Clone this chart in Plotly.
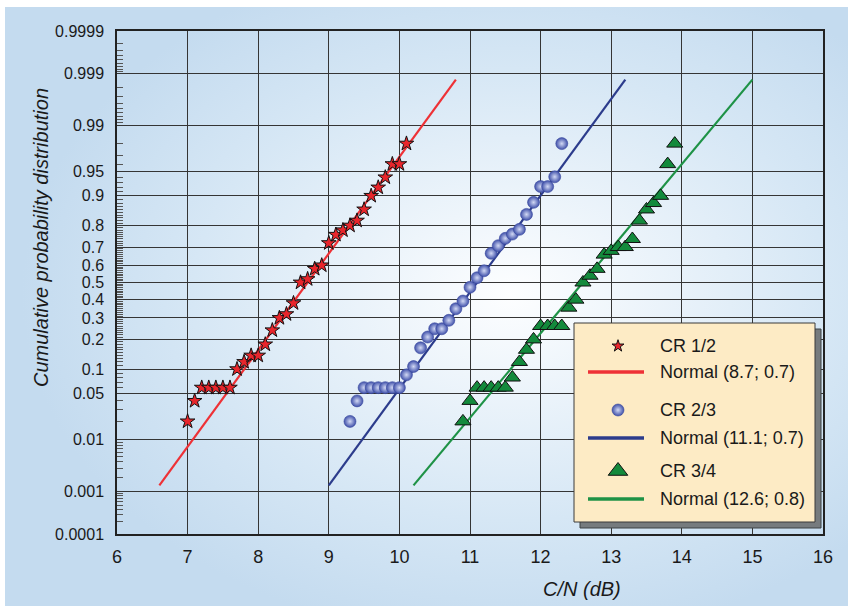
import base64
from statistics import NormalDist

import plotly.graph_objects as go

# ---- data -------------------------------------------------------------
prob_ticks = [0.0001, 0.001, 0.01, 0.05, 0.1, 0.2, 0.3, 0.4, 0.5, 0.6,
              0.7, 0.8, 0.9, 0.95, 0.99, 0.999, 0.9999]
prob_labels = ["0.0001", "0.001", "0.01", "0.05", "0.1", "0.2", "0.3", "0.4",
               "0.5", "0.6", "0.7", "0.8", "0.9", "0.95", "0.99", "0.999",
               "0.9999"]
cn_ticks = [6, 7, 8, 9, 10, 11, 12, 13, 14, 15, 16]

cr12_cn = [7.0, 7.1, 7.2, 7.3, 7.4, 7.5, 7.6, 7.7, 7.8, 7.9, 8.0, 8.1, 8.2,
           8.3, 8.4, 8.5, 8.6, 8.7, 8.8, 8.9, 9.0, 9.1, 9.2, 9.3, 9.4, 9.5,
           9.6, 9.7, 9.8, 9.9, 10.0, 10.1]
cr12_p = [0.02, 0.04, 0.06, 0.06, 0.06, 0.06, 0.06, 0.10, 0.12, 0.14, 0.14,
          0.18, 0.24, 0.30, 0.32, 0.38, 0.50, 0.52, 0.58, 0.60, 0.72, 0.76,
          0.78, 0.80, 0.82, 0.86, 0.90, 0.92, 0.94, 0.96, 0.96, 0.98]

cr23_cn = [9.3, 9.4, 9.5, 9.6, 9.7, 9.8, 9.9, 10.0, 10.1, 10.2, 10.3, 10.4,
           10.5, 10.6, 10.7, 10.8, 10.9, 11.0, 11.1, 11.2, 11.3, 11.4, 11.5,
           11.6, 11.7, 11.8, 11.9, 12.0, 12.1, 12.2, 12.3]
cr23_p = [0.02, 0.04, 0.06, 0.06, 0.06, 0.06, 0.06, 0.06, 0.086, 0.107,
          0.167, 0.21, 0.247, 0.247, 0.288, 0.349, 0.392, 0.472, 0.528, 0.569,
          0.667, 0.707, 0.743, 0.763, 0.784, 0.843, 0.882, 0.922, 0.922,
          0.941, 0.98]

cr34_cn = [10.9, 11.0, 11.1, 11.2, 11.3, 11.4, 11.5, 11.6, 11.7, 11.8, 11.9,
           12.0, 12.1, 12.2, 12.3, 12.4, 12.5, 12.6, 12.7, 12.8, 12.9, 13.0,
           13.1, 13.2, 13.3, 13.4, 13.5, 13.6, 13.7, 13.8, 13.9]
cr34_p = [0.02, 0.04, 0.06, 0.06, 0.06, 0.06, 0.06, 0.08, 0.12, 0.16, 0.20,
          0.26, 0.26, 0.26, 0.26, 0.355, 0.40, 0.50, 0.54, 0.58, 0.66, 0.68,
          0.70, 0.70, 0.74, 0.82, 0.86, 0.88, 0.90, 0.96, 0.98]

series_names = ["CR 1/2", "CR 2/3", "CR 3/4"]
fit_mean = [8.7, 11.1, 12.6]
fit_std = [0.7, 0.7, 0.8]

# ---- helpers ----------------------------------------------------------
STD = NormalDist()


def probit(p):
    return STD.inv_cdf(p)


FONT = "Liberation Sans, Arial, Helvetica, sans-serif"
W, H = 848, 606
L, R, T, B = 117, 25, 31, 72          # plot area margins (px)
PW, PH = W - L - R, H - T - B


def px_x(px):
    return (px - L) / PW


def px_y(py):
    return (H - B - py) / PH


RED, BLUE, GREEN = "#ee3136", "#2c3c8c", "#1e9246"

fig = go.Figure()

# ---- fitted normal lines (mean +/- 3 sigma), drawn on probit scale ----
line_colors = [RED, BLUE, GREEN]
for mu, sd, col in zip(fit_mean, fit_std, line_colors):
    dist = NormalDist(mu, sd)
    xs = [mu - 3 * sd + i * (6 * sd) / 40 for i in range(41)]
    ys = [probit(dist.cdf(x)) for x in xs]
    fig.add_trace(go.Scatter(x=xs, y=ys, mode="lines",
                             line=dict(color=col, width=2.2),
                             hoverinfo="skip", showlegend=False))

# ---- empirical points -------------------------------------------------
STAR = dict(symbol="star", size=11, color="#e8262c",
            line=dict(color="#111111", width=1))
BALL = dict(symbol="circle", size=12, color="#3f50aa",
            gradient=dict(type="radial", color="#d2d9f4"),
            line=dict(color="#3a4a9e", width=0.6))
TRI = dict(symbol="triangle-up", size=14, color="#138a3c",
           line=dict(color="#111111", width=1))

fig.add_trace(go.Scatter(
    x=cr12_cn, y=[probit(p) for p in cr12_p], mode="markers",
    name=series_names[0], showlegend=False, marker=STAR))
fig.add_trace(go.Scatter(
    x=cr23_cn, y=[probit(p) for p in cr23_p], mode="markers",
    name=series_names[1], showlegend=False, marker=BALL))
fig.add_trace(go.Scatter(
    x=cr34_cn, y=[probit(p) for p in cr34_p], mode="markers",
    name=series_names[2], showlegend=False, marker=TRI))

# ---- legend panel (drawn on an overlay axis in plot-fraction units) ----
box = (574, 323, 815, 522)
shadow_off = 6


def rect(x0, y0, x1, y1):
    xs = [px_x(x0), px_x(x1), px_x(x1), px_x(x0), px_x(x0)]
    ys = [px_y(y0), px_y(y0), px_y(y1), px_y(y1), px_y(y0)]
    return xs, ys


sx, sy = rect(box[0] + shadow_off, box[1] + shadow_off,
              box[2] + shadow_off, box[3] + shadow_off)
fig.add_trace(go.Scatter(x=sx, y=sy, xaxis="x2", yaxis="y2", mode="lines",
                         fill="toself", fillcolor="#767b7e",
                         line=dict(color="#3d4245", width=1),
                         hoverinfo="skip", showlegend=False))
bx, by = rect(*box)
fig.add_trace(go.Scatter(x=bx, y=by, xaxis="x2", yaxis="y2", mode="lines",
                         fill="toself", fillcolor="#fdebc5",
                         line=dict(color="#3a3a3a", width=1),
                         hoverinfo="skip", showlegend=False))

row_marker_y = [346, 410, 471]
row_line_y = [372, 438, 499]
legend_markers = [
    dict(STAR, size=9),
    dict(BALL, size=12),
    dict(TRI, size=17),
]
for i in range(3):
    fig.add_trace(go.Scatter(
        x=[px_x(588), px_x(644)], y=[px_y(row_line_y[i])] * 2,
        xaxis="x2", yaxis="y2", mode="lines",
        line=dict(color=line_colors[i], width=3.5),
        hoverinfo="skip", showlegend=False))
    fig.add_trace(go.Scatter(
        x=[px_x(618)], y=[px_y(row_marker_y[i])], xaxis="x2", yaxis="y2",
        mode="markers", marker=legend_markers[i], cliponaxis=False,
        hoverinfo="skip", showlegend=False))

legend_texts = []
for i in range(3):
    legend_texts.append((series_names[i], row_marker_y[i]))
    legend_texts.append((f"Normal ({fit_mean[i]}; {fit_std[i]})",
                         row_line_y[i]))

annotations = []
for txt, ypx in legend_texts:
    annotations.append(dict(
        text=txt, xref="paper", yref="paper", x=px_x(658), y=px_y(ypx),
        xanchor="left", yanchor="middle", showarrow=False,
        font=dict(family=FONT, size=18, color="#1a1a1a")))

annotations.append(dict(
    text="<i>C/N (dB)</i>", xref="paper", yref="paper",
    x=px_x(582), y=px_y(589), xanchor="center", yanchor="middle",
    showarrow=False, font=dict(family=FONT, size=20, color="#1a1a1a")))
annotations.append(dict(
    text="<i>Cumulative probability distribution</i>", xref="paper",
    yref="paper", x=px_x(41), y=px_y(238), xanchor="center",
    yanchor="middle", textangle=-90, showarrow=False,
    font=dict(family=FONT, size=20, color="#1a1a1a")))

# ---- soft radial background ------------------------------------------
svg = (
    '<svg xmlns="http://www.w3.org/2000/svg" width="843" height="599" '
    'preserveAspectRatio="none">'
    '<defs><radialGradient id="g" cx="0.6" cy="0.48" r="0.58">'
    '<stop offset="0" stop-color="#fdfeff"/>'
    '<stop offset="0.25" stop-color="#eef5fb"/>'
    '<stop offset="0.65" stop-color="#d6e7f5"/>'
    '<stop offset="1" stop-color="#c4dbef"/>'
    '</radialGradient></defs>'
    '<rect width="843" height="599" fill="url(#g)"/></svg>'
)
bg_src = "data:image/svg+xml;base64," + base64.b64encode(svg.encode()).decode()

# ---- minor ticks on the probability axis ------------------------------
minor_p = ([k * 0.0001 for k in range(2, 10)] +
           [k * 0.001 for k in range(2, 10)] +
           [k * 0.01 for k in range(2, 5)] +
           [k * 0.01 for k in range(6, 10)] +
           [k * 0.01 for k in range(11, 95) if k % 10 != 0] +
           [k * 0.01 for k in range(96, 99)] +
           [k * 0.001 for k in range(991, 999)] +
           [k * 0.0001 for k in range(9991, 9999)])
minor_vals = [probit(p) for p in minor_p]

ymax = probit(0.9999)

fig.update_layout(
    width=W, height=H,
    margin=dict(l=L, r=R, t=T, b=B, pad=0),
    paper_bgcolor="white",
    plot_bgcolor="rgba(0,0,0,0)",
    showlegend=False,
    font=dict(family=FONT, size=18, color="#1a1a1a"),
    xaxis=dict(range=[6, 16], tickvals=cn_ticks, ticks="",
               showgrid=True, gridcolor="#353535", gridwidth=1.4,
               showline=True, linecolor="#222222", linewidth=1.5,
               mirror=True, zeroline=False, ticklabelstandoff=6,
               tickfont=dict(family=FONT, size=18, color="#1a1a1a")),
    yaxis=dict(range=[-ymax, ymax], tickvals=[probit(p) for p in prob_ticks],
               ticktext=prob_labels, ticks="",
               showgrid=True, gridcolor="#353535", gridwidth=1.4,
               showline=True, linecolor="#222222", linewidth=1.5,
               mirror=True, zeroline=False, ticklabelstandoff=8,
               tickfont=dict(family=FONT, size=16, color="#1a1a1a"),
               minor=dict(tickmode="array", tickvals=minor_vals,
                          ticks="inside", ticklen=6, tickwidth=1.3,
                          tickcolor="#555555", showgrid=False)),
    xaxis2=dict(overlaying="x", range=[0, 1], visible=False,
                fixedrange=True),
    yaxis2=dict(overlaying="y", range=[0, 1], visible=False,
                fixedrange=True),
    annotations=annotations,
    images=[dict(source=bg_src, xref="paper", yref="paper",
                 x=px_x(5), y=px_y(7), sizex=(W - 5) / PW,
                 sizey=(H - 7) / PH, xanchor="left", yanchor="top",
                 sizing="stretch", layer="below")],
)

fig.write_html("out.html")
